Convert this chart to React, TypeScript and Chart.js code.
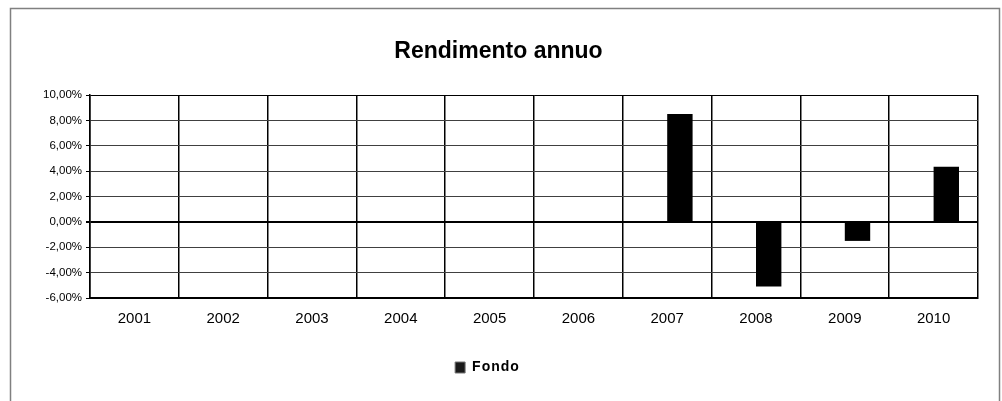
import React, { useEffect, useRef } from "react";
import { Chart, registerables } from "chart.js";

Chart.register(...registerables);

// ---- data ----
const years: string[] = ["2001", "2002", "2003", "2004", "2005", "2006", "2007", "2008", "2009", "2010"];
const fondoValues: (number | null)[] = [null, null, null, null, null, null, 8.5, -5.1, -1.5, 4.35];
const benchmarkValues: (number | null)[] = [null, null, null, null, null, null, null, null, null, null];
const yMin = -6;
const yMax = 10;
const yStep = 2;
const titleText = "Rendimento annuo";
const seriesName = "Fondo";
const hiddenSeriesName = "Benchmark";

const FONT = "'Liberation Sans', Arial, Helvetica, sans-serif";

export default function App() {
  const canvasRef = useRef<HTMLCanvasElement | null>(null);

  useEffect(() => {
    if (!canvasRef.current) return;

    const framePlugin = {
      id: "excelFrame",
      beforeDraw(chart: any) {
        const ctx = chart.ctx;
        ctx.save();
        ctx.fillStyle = "#ffffff";
        ctx.fillRect(0, 0, chart.width, chart.height);
        ctx.strokeStyle = "#808080";
        ctx.lineWidth = 1.5;
        ctx.strokeRect(10.5, 8.5, 989, 430);
        ctx.restore();
      },
      afterLayout(chart: any) {
        const t = chart.titleBlock;
        if (t) {
          t.left = 0;
          t.right = 997;
        }
        const l = chart.legend;
        if (l) {
          l.left = 0;
          l.right = 970;
          if (!l._spacedWrap) {
            const orig = l.draw.bind(l);
            l.draw = function (area: any) {
              const c = chart.ctx;
              c.save();
              (c as any).letterSpacing = "1px";
              orig(area);
              c.restore();
            };
            l._spacedWrap = true;
          }
        }
      },
    };

    const chart = new Chart(canvasRef.current, {
      type: "bar",
      data: {
        labels: years,
        datasets: [
          {
            label: hiddenSeriesName,
            data: benchmarkValues,
            backgroundColor: "#808080",
            borderWidth: 0,
          },
          {
            label: seriesName,
            data: fondoValues,
            backgroundColor: "#000000",
            borderWidth: 0,
          },
        ],
      },
      options: {
        responsive: false,
        animation: false,
        devicePixelRatio: 1,
        layout: { padding: { top: 0, left: 0, right: 24, bottom: 16.5 } },
        datasets: {
          bar: { categoryPercentage: 0.572, barPercentage: 1 },
        },
        plugins: {
          tooltip: { enabled: false },
          title: {
            display: true,
            text: titleText,
            color: "#000000",
            font: { family: FONT, size: 23, weight: "bold", lineHeight: 1.2 },
            padding: { top: 37.9, bottom: 29.5 },
          },
          legend: {
            display: true,
            position: "bottom",
            labels: {
              color: "#000000",
              font: { family: FONT, size: 14, weight: "bold" },
              boxWidth: 10,
              boxHeight: 11,
              padding: 10,
              generateLabels: (c: any) =>
                (Chart.defaults.plugins.legend.labels.generateLabels as any)(c)
                  .filter((i: any) => i.text === seriesName)
                  .map((i: any) => ({ ...i, fillStyle: "#1a1a1a", strokeStyle: "#777777", lineWidth: 1 })),
            },
          },
        },
        scales: {
          x: {
            grid: {
              offset: true,
              color: "#000000",
              lineWidth: (c: any) => (c.index === years.length ? 2 : 1.5),
              drawTicks: false,
            },
            border: { display: true, color: "#000000", width: 2 },
            ticks: {
              color: "#000000",
              font: { family: FONT, size: 15 },
              padding: 12,
              maxRotation: 0,
              autoSkip: false,
            },
            afterFit: (s: any) => {
              s.height = 52.5;
            },
          },
          y: {
            min: yMin,
            max: yMax,
            ticks: {
              stepSize: yStep,
              color: "#000000",
              font: { family: FONT, size: 11.5 },
              padding: 4,
              callback: (v: any) => Number(v).toFixed(2).replace(".", ",") + "%",
            },
            grid: {
              color: (c: any) =>
                c.tick && (c.tick.value === 0 || c.tick.value === yMax) ? "#000000" : "#404040",
              lineWidth: (c: any) => (c.tick && c.tick.value === 0 ? 2 : 1),
              tickLength: 4,
              tickColor: "#000000",
            },
            border: { display: true, color: "#000000", width: 1.5 },
            afterFit: (s: any) => {
              s.width = 90;
            },
          },
        },
      },
      plugins: [framePlugin],
    } as any);

    return () => {
      chart.destroy();
    };
  }, []);

  return (
    <div style={{ position: "absolute", left: 0, top: 0, width: 1002, height: 401, background: "#fff" }}>
      <canvas ref={canvasRef} width={1002} height={401} style={{ display: "block" }} />
    </div>
  );
}
